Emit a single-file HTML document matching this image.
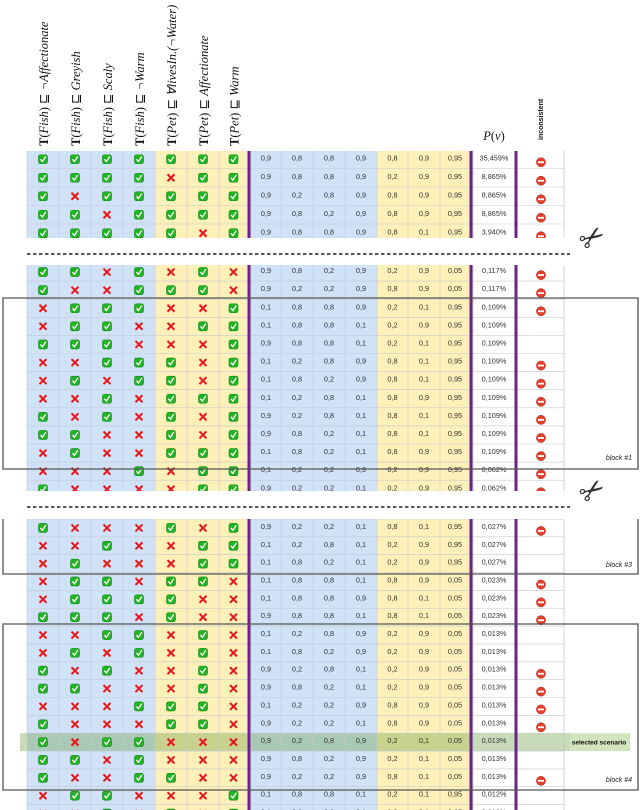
<!DOCTYPE html>
<html><head><meta charset="utf-8">
<style>
html,body{margin:0;padding:0;background:#fff;}
svg{display:block;}
.num{font-family:"Liberation Sans",sans-serif;font-size:7.3px;fill:#333;text-anchor:middle;}
.hdr{font-family:"Liberation Serif",serif;font-size:12.5px;fill:#111;}
</style></head>
<body>
<svg id="chart" width="640" height="810" viewBox="0 0 640 810" xmlns="http://www.w3.org/2000/svg">
  <defs>
    <clipPath id="c1"><rect x="0" y="151" width="640" height="87"/></clipPath>
    <clipPath id="c2"><rect x="0" y="265" width="640" height="226"/></clipPath>
    <clipPath id="c3"><rect x="0" y="519" width="640" height="291"/></clipPath>
  </defs>
  <g id="headers"></g>
  <g id="body"></g>
  <g id="overlay"></g>
</svg>
<script>
// ---- data ----
const headerSubj = ["Fish","Fish","Fish","Fish","Pet","Pet","Pet"];
const headerConcept = ["¬Affectionate","Greyish","Scaly","¬Warm","∀livesIn.(¬Water)","Affectionate","Warm"];
const sec1Flags = ["1111111","1111011","1011111","1101111","1111101"];
const sec1Vals = [[".9",".8",".8",".9",".8",".9",".95"],[".9",".8",".8",".9",".2",".9",".95"],[".9",".2",".8",".9",".8",".9",".95"],[".9",".8",".2",".9",".8",".9",".95"],[".9",".8",".8",".9",".8",".1",".95"]];
const sec1Prob = ["35,459%","8,865%","8,865%","8,865%","3,940%"];
const sec1Inc = [1,1,1,1,1];
const sec2Flags = ["1101010","1001110","0111001","0110011","1110001","0011101","0101101","0010111","1010101","1100101","0100111","0001011","1000011"];
const sec2Vals = [[".9",".8",".2",".9",".2",".9",".05"],[".9",".2",".2",".9",".8",".9",".05"],[".1",".8",".8",".9",".2",".1",".95"],[".1",".8",".8",".1",".2",".9",".95"],[".9",".8",".8",".1",".2",".1",".95"],[".1",".2",".8",".9",".8",".1",".95"],[".1",".8",".2",".9",".8",".1",".95"],[".1",".2",".8",".1",".8",".9",".95"],[".9",".2",".8",".1",".8",".1",".95"],[".9",".8",".2",".1",".8",".1",".95"],[".1",".8",".2",".1",".8",".9",".95"],[".1",".2",".2",".9",".2",".9",".95"],[".9",".2",".2",".1",".2",".9",".95"]];
const sec2Prob = ["0,117%","0,117%","0,109%","0,109%","0,109%","0,109%","0,109%","0,109%","0,109%","0,109%","0,109%","0,062%","0,062%"];
const sec2Inc = [1,1,1,0,0,1,1,1,1,1,1,1,1];
const sec3Flags = ["1000101","0010011","0100011","0110110","0111100","1110100","0011010","0101010","1010010","1100010","0001110","1000110","1011000","1101000","1001100","0110001","0010101"];
const sec3Vals = [[".9",".2",".2",".1",".8",".1",".95"],[".1",".2",".8",".1",".2",".9",".95"],[".1",".8",".2",".1",".2",".9",".95"],[".1",".8",".8",".1",".8",".9",".05"],[".1",".8",".8",".9",".8",".1",".05"],[".9",".8",".8",".1",".8",".1",".05"],[".1",".2",".8",".9",".2",".9",".05"],[".1",".8",".2",".9",".2",".9",".05"],[".9",".2",".8",".1",".2",".9",".05"],[".9",".8",".2",".1",".2",".9",".05"],[".1",".2",".2",".9",".8",".9",".05"],[".9",".2",".2",".1",".8",".9",".05"],[".9",".2",".8",".9",".2",".1",".05"],[".9",".8",".2",".9",".2",".1",".05"],[".9",".2",".2",".9",".8",".1",".05"],[".1",".8",".8",".1",".2",".1",".95"],[".1",".2",".8",".1",".8",".1",".95"]];
const sec3Prob = ["0,027%","0,027%","0,027%","0,023%","0,023%","0,023%","0,013%","0,013%","0,013%","0,013%","0,013%","0,013%","0,013%","0,013%","0,013%","0,012%","0,012%"];
const sec3Inc = [1,0,0,1,1,1,0,0,1,1,1,1,0,0,1,0,1];
const selectedRow = 12;

// ---- layout ----
const NS = "http://www.w3.org/2000/svg";
const flagX = [27,59,91,123,155,187,219,248];
const valX = [251,281,313,345,377,408,440,470];
const probX = [473,515];
const incX = [518,564];
const BLUE = "#cfe2f8", YELLOW = "#fdf0b8", GRID = "#c4c9cf", PURPLE = "#6b2389";
const sections = [
  {clip:"c1", y0:150, h:18.5, flags:sec1Flags, vals:sec1Vals, prob:sec1Prob, inc:sec1Inc},
  {clip:"c2", y0:263, h:18.1, flags:sec2Flags, vals:sec2Vals, prob:sec2Prob, inc:sec2Inc},
  {clip:"c3", y0:519, h:17.85, flags:sec3Flags, vals:sec3Vals, prob:sec3Prob, inc:sec3Inc}
];
function mk(tag, attrs, parent){
  const e = document.createElementNS(NS, tag);
  for (const k in attrs) e.setAttribute(k, attrs[k]);
  if (parent) parent.appendChild(e);
  return e;
}
function fmtVal(v){ return "0" + v.replace(".", ","); }

const hdr = document.getElementById("headers");
headerSubj.forEach((s,i)=>{
  const cx = (flagX[i]+flagX[i+1])/2 + 5;
  const t = mk("text",{class:"hdr",transform:`translate(${cx},146) rotate(-90)`},hdr);
  
  
  const a = mk("tspan",{"font-weight":"bold"},t); a.textContent="T";
  const b = mk("tspan",{},t); b.textContent="(";
  const c = mk("tspan",{"font-style":"italic"},t); c.textContent=s;
  const d = mk("tspan",{},t); d.textContent=")  ⊑  ";
  const e = mk("tspan",{"font-style":"italic"},t); e.textContent=headerConcept[i];
});
const pv = mk("text",{x:494,y:140,"text-anchor":"middle",class:"hdr","font-size":"13"},hdr);


pv.innerHTML = '<tspan font-style="italic">P</tspan>(<tspan font-style="italic">ν</tspan>)';
const inc = mk("text",{transform:"translate(543,140) rotate(-90)","font-family":"Liberation Sans, sans-serif","font-size":"7","font-weight":"bold",fill:"#111"},hdr);


inc.textContent = "inconsistent";

const body = document.getElementById("body");
function check(g, cx, cy){
  mk("rect",{x:cx-4.5,y:cy-4.5,width:9,height:9,rx:2,fill:"#22b422",stroke:"#10861a","stroke-width":0.6},g);
  mk("path",{d:`M${cx-2.6} ${cy} L${cx-0.6} ${cy+2.3} L${cx+2.8} ${cy-2.8}`,fill:"none",stroke:"#fff","stroke-width":1.3},g);
}
function cross(g, cx, cy){
  mk("path",{d:`M${cx-3.5} ${cy-3.5} L${cx+3.5} ${cy+3.5} M${cx+3.5} ${cy-3.5} L${cx-3.5} ${cy+3.5}`,stroke:"#e5171c","stroke-width":2,fill:"none"},g);
}
function incIcon(g, cx, cy){
  mk("circle",{cx:cx,cy:cy,r:4.6,fill:"#e0402a",stroke:"#b8281a","stroke-width":0.5},g);
  mk("rect",{x:cx-3,y:cy-0.9,width:6,height:1.8,fill:"#fff"},g);
}

sections.forEach((sec, si)=>{
  const g = mk("g",{"clip-path":`url(#${sec.clip})`},body);
  
  
  const n = sec.flags.length;
  const yEnd = sec.y0 + n*sec.h;
  mk("rect",{x:flagX[0],y:sec.y0,width:flagX[4]-flagX[0],height:n*sec.h,fill:BLUE},g);
  mk("rect",{x:flagX[4],y:sec.y0,width:flagX[7]-flagX[4],height:n*sec.h,fill:YELLOW},g);
  mk("rect",{x:valX[0],y:sec.y0,width:valX[4]-valX[0],height:n*sec.h,fill:BLUE},g);
  mk("rect",{x:valX[4],y:sec.y0,width:valX[7]-valX[4],height:n*sec.h,fill:YELLOW},g);
  mk("rect",{x:probX[0],y:sec.y0,width:incX[1]-probX[0],height:n*sec.h,fill:"#fff",stroke:GRID,"stroke-width":0.6},g);
  if (si===2){
    const y = sec.y0 + selectedRow*sec.h;
    mk("rect",{x:20,y:y,width:550,height:sec.h,fill:"rgba(110,160,70,0.38)"},g);
    mk("rect",{x:570,y:y,width:60,height:sec.h,fill:"rgba(150,195,110,0.45)"},g);
  }
  for (let r=0;r<=n;r++){
    const y = sec.y0 + r*sec.h;
    mk("line",{x1:flagX[0],x2:incX[1],y1:y,y2:y,stroke:GRID,"stroke-width":0.6},g);
  }
  flagX.concat(valX,[probX[0],incX[1]]).forEach(x=>{
    mk("line",{x1:x,x2:x,y1:sec.y0,y2:yEnd,stroke:GRID,"stroke-width":0.6},g);
  });
  mk("rect",{x:247.5,y:sec.y0,width:3,height:n*sec.h,fill:PURPLE},g);
  mk("rect",{x:469.5,y:sec.y0,width:3,height:n*sec.h,fill:PURPLE},g);
  mk("rect",{x:514.5,y:sec.y0,width:3,height:n*sec.h,fill:PURPLE},g);
  sec.flags.forEach((f, r)=>{
    const cy = sec.y0 + r*sec.h + sec.h/2;
    const rg = mk("g",{},g);
    
    
    for (let c=0;c<7;c++){
      const cx = (flagX[c]+flagX[c+1])/2;
      if (f[c]==="1") check(rg,cx,cy); else cross(rg,cx,cy);
    }
    sec.vals[r].forEach((v,c)=>{
      const t = mk("text",{x:(valX[c]+valX[c+1])/2,y:cy+1,class:"num"},rg);
      t.textContent = fmtVal(v);
    });
    const p = mk("text",{x:(probX[0]+probX[1])/2,y:cy+1,class:"num"},rg);
    p.textContent = sec.prob[r];
    if (sec.inc[r]) incIcon(rg,(incX[0]+incX[1])/2,cy+3);
  });
});

const ov = document.getElementById("overlay");
[254,507].forEach((y,i)=>{
  const l = mk("line",{x1:27,x2:570,y1:y,y2:y,stroke:"#222","stroke-width":1.6,"stroke-dasharray":"3.5,2.5"},ov);
  
  
  const s = mk("text",{transform:`translate(598,${y-8}) rotate(-35)`,"font-family":"DejaVu Sans, sans-serif","font-size":"30",fill:"#333","text-anchor":"middle"},ov);
  
  
  s.textContent = "✂";
});
const blocks = [{y1:298,y2:469,label:"block #1",ly:460},{y1:519,y2:574,label:"block #3",ly:567},{y1:624,y2:790,label:"block #4",ly:782}];
blocks.forEach((b,i)=>{
  const d = i===1 ? `M3 ${b.y1} L3 ${b.y2} L638 ${b.y2} L638 ${b.y1}` : `M3 ${b.y1} L638 ${b.y1} L638 ${b.y2} L3 ${b.y2} Z`;
  const r = mk("path",{d:d,fill:"none",stroke:"#555","stroke-width":1.3},ov);
  
  
  const t = mk("text",{x:632,y:b.ly,"text-anchor":"end","font-family":"Liberation Sans, sans-serif","font-size":"7","font-style":"italic",fill:"#222"},ov);
  
  
  t.textContent = b.label;
});
const sel = mk("text",{x:599,y:sections[2].y0+selectedRow*sections[2].h+sections[2].h/2+2.5,"text-anchor":"middle","font-family":"Liberation Sans, sans-serif","font-size":"6.5","font-weight":"bold",fill:"#111"},ov);


sel.textContent = "selected scenario";
</script>
</body></html>
